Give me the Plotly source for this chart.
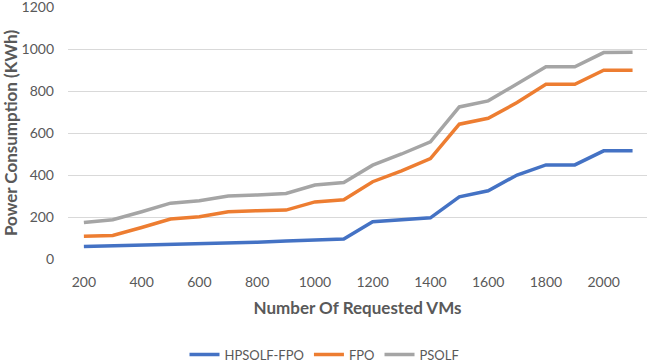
import plotly.graph_objects as go

vms = [200, 300, 400, 500, 600, 700, 800, 900, 1000, 1100,
       1200, 1300, 1400, 1500, 1600, 1700, 1800, 1900, 2000, 2100]
hpsolf_fpo = [60, 63, 66, 70, 73, 77, 80, 86, 90, 95,
              177, 188, 196, 296, 325, 400, 448, 448, 515, 515]
fpo = [108, 112, 150, 190, 201, 225, 230, 233, 272, 282,
       368, 420, 478, 642, 670, 745, 832, 832, 899, 899]
psolf = [174, 187, 225, 266, 277, 300, 305, 312, 352, 364,
         447, 500, 558, 724, 753, 832, 915, 915, 983, 985]

series = [("HPSOLF-FPO", hpsolf_fpo, "#4472C4"),
          ("FPO", fpo, "#ED7D31"),
          ("PSOLF", psolf, "#A5A5A5")]

fig = go.Figure()
for name, vals, col in series:
    fig.add_trace(go.Scatter(x=vms, y=vals, mode="lines", name=name,
                             line=dict(color=col, width=3.5)))

font = "Lato, Open Sans, sans-serif"
fig.update_layout(
    width=649, height=362,
    margin=dict(l=68, r=2, t=7, b=103, autoexpand=False),
    plot_bgcolor="white", paper_bgcolor="white",
    font=dict(family=font, color="#595959", size=14),
    showlegend=True,
    legend=dict(orientation="h", xref="container", x=0.5, xanchor="center",
                y=-0.32, yanchor="top",
                font=dict(size=13, color="#595959"), itemwidth=30,
                tracegroupgap=0),
    xaxis=dict(range=[145, 2150], tickvals=list(range(200, 2001, 200)),
               showgrid=False, zeroline=False, showline=False, automargin=False,
               ticks="", ticklabelstandoff=13, ticklabeloverflow="allow",
               title=dict(text="<b>Number Of Requested VMs</b>",
                          font=dict(size=17, color="#595959"), standoff=13)),
    yaxis=dict(range=[0, 1200], tickvals=list(range(0, 1201, 200)),
               showgrid=True, gridcolor="#D9D9D9", gridwidth=1, automargin=False,
               zeroline=False, showline=False, ticks="", ticklabelstandoff=13,
               ticklabeloverflow="allow",
               title=dict(text="<b>Power Consumption (KWh)</b>",
                          font=dict(size=17, color="#595959"), standoff=4)),
)
fig.write_html("out.html", config={"displayModeBar": False},
               post_script="document.body.style.margin='0';document.body.style.overflow='hidden';")
